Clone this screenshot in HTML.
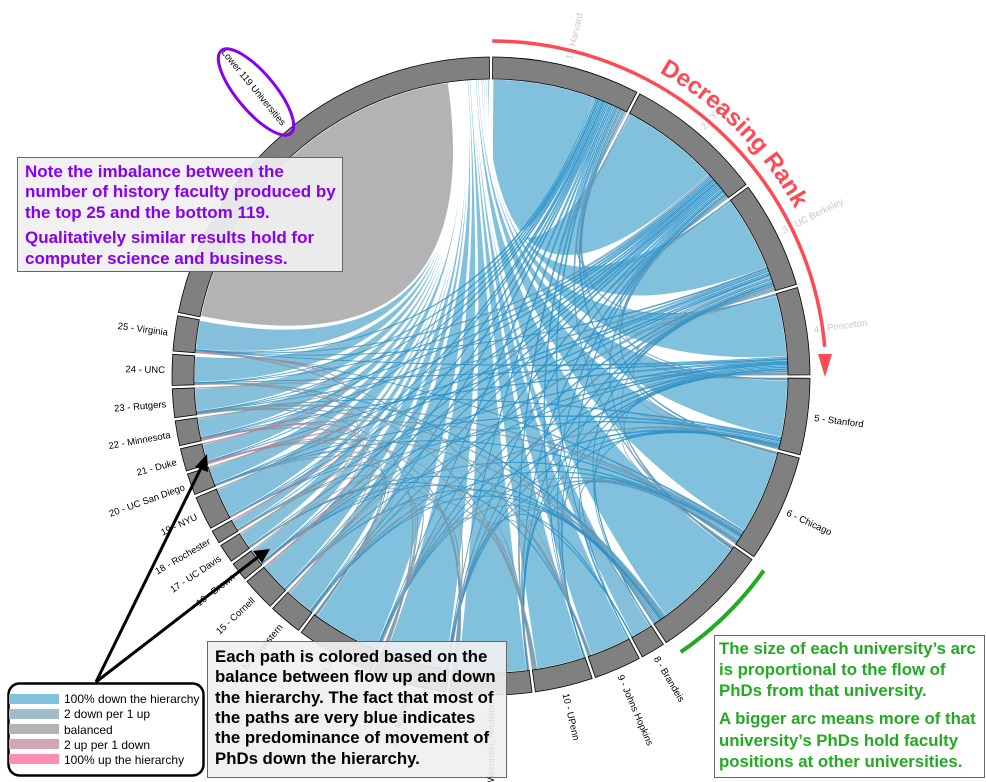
<!DOCTYPE html>
<html><head><meta charset="utf-8">
<style>
html,body{margin:0;padding:0;background:#fff;}
svg{display:block;}
text{font-family:"Liberation Sans",Arial,sans-serif;}
.bx{font-weight:bold;font-size:16.8px;}
.px{font-weight:bold;font-size:17px;}
</style></head>
<body>
<svg id="chart" width="986" height="782" viewBox="0 0 986 782">
<g id="ribbons"></g>
<g id="arcs"></g>
<g id="labels"></g>

<g>
  <path id="rankArc" fill="none" stroke="#ff4a55" stroke-width="3.5"/>
  <polygon id="rankHead" fill="#ff4a55"/>
  <path id="rankTextPath" fill="none" stroke="none"/>
  <text font-size="24" font-weight="bold" fill="#ff4a55"><textPath href="#rankTextPath">Decreasing Rank</textPath></text>
</g>
<path id="greenArc" fill="none" stroke="#22aa22" stroke-width="4"/>

<ellipse cx="256" cy="92" rx="54" ry="19" transform="rotate(50 256 92)" fill="none" stroke="#8800ee" stroke-width="3"/>

<g>
  <rect x="17.5" y="157.5" width="325" height="114" fill="#f0f0f0" fill-opacity="0.92" stroke="#666" stroke-width="1"/>
  <text class="px" fill="#8800ee" x="25" y="177">Note the imbalance between the</text>
  <text class="px" fill="#8800ee" x="25" y="197">number of history faculty produced by</text>
  <text class="px" fill="#8800ee" x="25" y="218">the top 25 and the bottom 119.</text>
  <text class="px" fill="#8800ee" x="25" y="243">Qualitatively similar results hold for</text>
  <text class="px" fill="#8800ee" x="25" y="264">computer science and business.</text>
</g>

<g>
  <rect x="207.5" y="641.5" width="299" height="136" fill="#f0f0f0" fill-opacity="0.9" stroke="#666" stroke-width="1"/>
  <text class="bx" fill="#000" x="215" y="662">Each path is colored based on the</text>
  <text class="bx" fill="#000" x="215" y="682">balance between flow up and down</text>
  <text class="bx" fill="#000" x="215" y="703">the hierarchy. The fact that most of</text>
  <text class="bx" fill="#000" x="215" y="723">the paths are very blue indicates</text>
  <text class="bx" fill="#000" x="215" y="743">the predominance of movement of</text>
  <text class="bx" fill="#000" x="215" y="764">PhDs down the hierarchy.</text>
</g>

<g>
  <rect x="714.5" y="635.5" width="270" height="142" fill="#fff" stroke="#666" stroke-width="1"/>
  <text class="bx" fill="#22aa22" x="719" y="654">The size of each university’s arc</text>
  <text class="bx" fill="#22aa22" x="719" y="675">is proportional to the flow of</text>
  <text class="bx" fill="#22aa22" x="719" y="696">PhDs from that university.</text>
  <text class="bx" fill="#22aa22" x="719" y="724">A bigger arc means more of that</text>
  <text class="bx" fill="#22aa22" x="719" y="746">university’s PhDs hold faculty</text>
  <text class="bx" fill="#22aa22" x="719" y="767">positions at other universities.</text>
</g>

<g stroke="#000" stroke-width="3" fill="#000">
  <line x1="96" y1="682" x2="202" y2="466"/>
  <polygon points="207,454 195,467 208,472" stroke="none"/>
  <line x1="96" y1="682" x2="258" y2="557"/>
  <polygon points="270,549 253,551 262,563" stroke="none"/>
</g>

<g>
  <rect x="8.5" y="683.5" width="195" height="92" rx="11" fill="#fff" stroke="#000" stroke-width="2.5"/>
  <g><rect x="9" y="694" width="50" height="10" fill="#7fc1de"/><text x="64" y="703" font-size="12">100% down the hierarchy</text></g>
  <g><rect x="9" y="709" width="50" height="10" fill="#a2bccb"/><text x="64" y="718" font-size="12">2 down per 1 up</text></g>
  <g><rect x="9" y="724" width="50" height="10" fill="#b3b3b3"/><text x="64" y="734" font-size="12">balanced</text></g>
  <g><rect x="9" y="739" width="50" height="10" fill="#d0a7b5"/><text x="64" y="749" font-size="12">2 up per 1 down</text></g>
  <g><rect x="9" y="754" width="50" height="10" fill="#ff8fb0"/><text x="64" y="764" font-size="12">100% up the hierarchy</text></g>
</g>
</svg>

<script>
// ---- data ----
const universities = ["1 - Harvard","2 - Yale","3 - UC Berkeley","4 - Princeton","5 - Stanford","6 - Chicago","7 - Columbia","8 - Brandeis","9 - Johns Hopkins","10 - UPenn","11 - Wisconsin, Madison","12 - Michigan","13 - UCLA","14 - Northwestern","15 - Cornell","16 - Brown","17 - UC Davis","18 - Rochester","19 - NYU","20 - UC San Diego","21 - Duke","22 - Minnesota","23 - Rutgers","24 - UNC","25 - Virginia","Lower 119 Universities"];
const phdsPlaced = [269,253,196,159,139,196,216,44,86,105,149,135,143,61,61,34,34,24,61,39,41,45,52,56,64,782];
const lowerBack = [5,4,4,4,3,4,4,2,3,3,4,4,3,3,3,2,2,2,3,2,3,3,3,3,3];
const linkSource = [0,0,0,0,0,0,0,0,0,0,0,0,0,0,0,0,0,0,0,0,0, 1,1,1,1,1,1,1,1,1,1,1,1,1,1,1,1,1,1,1,1, 2,2,2,2,2,2,2,2,2,2,2,2,2,2,2,2, 3,3,3,3,3,3,3,3,3,3,3,3,3,3, 4,4,4,4,4,4,4,4,4,4, 5,5,5,5,5,5,5,5,5,5,5,5, 6,6,6,6,6,6,6,6,6,6,6, 7,7, 8,8,8,8, 9,9,9,9,9, 10,10,10,10,10, 11,11,11,11, 12,12,12,12, 13,13, 14,14, 15, 16,17,18,19,20,21,22];
const linkTarget = [1,2,3,4,5,6,8,9,10,11,12,13,14,15,17,18,20,21,22,23,24, 2,3,4,5,6,8,9,10,11,12,13,14,15,16,18,19,21,22,23,24, 3,4,5,6,7,9,10,11,12,13,15,17,19,20,22,24, 4,5,6,7,9,10,11,12,14,15,18,21,23,24, 5,6,7,10,11,12,13,17,19,22, 6,8,9,10,11,12,13,15,19,21,22,24, 7,9,10,11,12,13,14,16,20,22,23, 11,15, 10,11,16,24, 11,12,14,20,23, 12,13,16,19,21, 13,15,17,22, 14,16,18,19, 15,20, 17,21, 23, 18,20,22,21,24,23,24];
const linkDown = [4,3,4,3,4,3,3,4,4,3,4,3,3,3,2,3,3,3,2,3,4, 3,3,2,3,4,2,3,4,3,3,3,3,2,3,3,2,3,3,3,4, 3,3,3,2,3,2,3,4,3,5,2,3,4,3,3,2, 2,2,3,3,2,3,3,3,2,2,2,3,2,3, 2,2,2,2,2,3,3,2,3,2, 3,2,2,3,4,3,2,2,2,2,3,2, 2,3,3,3,3,2,2,2,2,2,3, 1,1, 1,2,1,2, 2,2,2,1,2, 2,2,2,2,2, 2,2,1,2, 1,1,1,2, 1,1, 1,1, 1, 1,1,1,1,1,1,1];
const linkUp = [2,1,1,1,0,1,0,0,0,0,0,0,0,0,0,0,0,0,0,0,0, 1,1,1,0,1,0,0,0,0,0,0,0,0,0,0,0,0,0,0,1, 1,1,2,1,0,0,0,1,0,1,0,0,0,0,1,0, 1,1,1,0,0,0,0,0,0,0,0,0,0,0, 1,1,0,0,0,0,1,0,0,0, 2,0,1,0,1,1,0,0,0,1,1,0, 1,0,1,1,1,0,0,0,1,1,0, 0,0, 1,1,0,1, 1,1,1,1,1, 2,1,1,1,1, 1,1,1,1, 1,1,0,1, 1,1, 1,2, 1, 1,2,1,1,2,1,1];

// ---- layout ----
const CX = 491, CY = 376, R_IN = 297, R_OUT = 319, PAD = 0.6, START = 0.3;
const N = universities.length, LOWER = N - 1;
const NS = "http://www.w3.org/2000/svg";
const rad = a => a * Math.PI / 180;
const pt = (a, r) => [CX + r * Math.sin(rad(a)), CY - r * Math.cos(rad(a))];
const total = phdsPlaced.reduce((s, v) => s + v, 0);
const K = (360 - PAD * N) / total;
const nodeA0 = [], nodeA1 = [];
let acc = START;
for (let i = 0; i < N; i++) { nodeA0.push(acc); acc += phdsPlaced[i] * K; nodeA1.push(acc); acc += PAD; }
const mid = i => (nodeA0[i] + nodeA1[i]) / 2;
const ends = []; for (let i = 0; i < N; i++) ends.push([]);
const ribbons = [];
function addRibbon(s, t, d, u) {
  const rb = { s, t, d, u };
  const es = { val: d, other: t, rb, side: "s" }, et = { val: Math.max(u, 0.3), other: s, rb, side: "t" };
  ends[s].push(es); if (s !== t) ends[t].push(et); else { es.self = true; }
  ribbons.push(rb); return rb;
}
const lowerRibbons = [];
for (let i = 0; i < LOWER; i++) lowerRibbons.push(addRibbon(i, LOWER, 0, lowerBack[i]));
const selfRb = addRibbon(LOWER, LOWER, 0, 0);
const linkRibbons = [];
for (let l = 0; l < linkSource.length; l++) linkRibbons.push(addRibbon(linkSource[l], linkTarget[l], linkDown[l], linkUp[l]));
for (let i = 0; i < LOWER; i++) {
  const used = ends[i].filter(e => e.rb !== lowerRibbons[i]).reduce((s, e) => s + e.val, 0);
  const e = ends[i].find(e => e.rb === lowerRibbons[i]);
  e.val = phdsPlaced[i] - used; lowerRibbons[i].d = e.val;
}
{ const used = ends[LOWER].filter(e => !e.self).reduce((s, e) => s + e.val, 0);
  const e = ends[LOWER].find(e => e.self); e.val = phdsPlaced[LOWER] - used; }
for (let i = 0; i < N; i++) {
  ends[i].forEach(e => { e.rel = e.self ? 360 : ((mid(e.other) - mid(i)) % 360 + 360) % 360; });
  ends[i].sort((a, b) => b.rel - a.rel);
  let a = nodeA0[i];
  ends[i].forEach(e => { e.a0 = a; a += e.val * K; e.a1 = a; e.rb[e.side + "a"] = [e.a0, e.a1]; });
}
selfRb.ta = selfRb.sa;

function ribbonPath(sa, ta, r) {
  const p0 = pt(sa[0], r), p1 = pt(sa[1], r), q0 = pt(ta[0], r), q1 = pt(ta[1], r);
  const lf = (a, b) => (b - a > 180 ? 1 : 0);
  if (ta === sa) return `M${p0}A${r},${r} 0 ${lf(sa[0], sa[1])} 1 ${p1}Q${CX},${CY} ${p0}Z`;
  return `M${p0}A${r},${r} 0 ${lf(sa[0], sa[1])} 1 ${p1}Q${CX},${CY} ${q0}A${r},${r} 0 ${lf(ta[0], ta[1])} 1 ${q1}Q${CX},${CY} ${p0}Z`;
}
const fillStops = [[0,[255,143,176]],[0.333,[208,167,181]],[0.5,[179,179,179]],[0.667,[162,188,203]],[1,[127,193,222]]];
const strokeStops = [[0,[255,70,120]],[0.333,[200,120,150]],[0.5,[150,150,150]],[0.667,[110,150,175]],[1,[35,140,198]]];
function interp(stops, r) {
  for (let i = 1; i < stops.length; i++) if (r <= stops[i][0]) {
    const [a, ca] = stops[i - 1], [b, cb] = stops[i], f = (r - a) / (b - a);
    return "rgb(" + ca.map((c, k) => Math.round(c + (cb[k] - c) * f)).join(",") + ")";
  }
  return "rgb(" + stops[stops.length - 1][1].join(",") + ")";
}
const gR = document.getElementById("ribbons");
{
  const p = document.createElementNS(NS, "path");
  p.setAttribute("d", ribbonPath(selfRb.sa, selfRb.sa, R_IN));
  p.setAttribute("fill", "#b3b3b3"); p.setAttribute("stroke", "#fff"); p.setAttribute("stroke-width", "2");
  
  
  gR.appendChild(p);
}
lowerRibbons.forEach((rb, i) => {
  const p = document.createElementNS(NS, "path");
  p.setAttribute("d", ribbonPath(rb.sa, rb.ta, R_IN));
  const r = rb.d / (rb.d + rb.u);
  p.setAttribute("fill", interp(fillStops, r)); p.setAttribute("stroke", "#fff");
  p.setAttribute("stroke-width", "1.6");
  
  
  gR.appendChild(p);
});
linkRibbons.forEach(rb => {
  const p = document.createElementNS(NS, "path");
  p.setAttribute("d", ribbonPath(rb.sa, rb.ta, R_IN));
  const r = rb.d / (rb.d + rb.u);
  p.setAttribute("fill", interp(fillStops, r)); p.setAttribute("fill-opacity", "0.7");
  p.setAttribute("stroke", interp(strokeStops, r)); p.setAttribute("stroke-width", "0.8"); p.setAttribute("stroke-opacity", "0.75");
  
  
  gR.appendChild(p);
});
const gA = document.getElementById("arcs"), gL = document.getElementById("labels");
for (let i = 0; i < N; i++) {
  const a0 = nodeA0[i], a1 = nodeA1[i], lf = a1 - a0 > 180 ? 1 : 0;
  const o0 = pt(a0, R_OUT), o1 = pt(a1, R_OUT), i0 = pt(a0, R_IN), i1 = pt(a1, R_IN);
  const p = document.createElementNS(NS, "path");
  p.setAttribute("d", `M${o0}A${R_OUT},${R_OUT} 0 ${lf} 1 ${o1}L${i1}A${R_IN},${R_IN} 0 ${lf} 0 ${i0}Z`);
  p.setAttribute("fill", "#808080"); p.setAttribute("stroke", "#000"); p.setAttribute("stroke-width", "0.8");
  
  
  gA.appendChild(p);
  if (i === 6) continue; // label of rank 7 not visible in the reference
  const m = mid(i);
  const t = document.createElementNS(NS, "text");
  t.textContent = universities[i];
  t.setAttribute("font-size", "9.5");
  t.setAttribute("dy", "0.35em");
  t.setAttribute("fill", i < 4 ? "#c8c8c8" : "#000");
  if (m < 180) { t.setAttribute("transform", `translate(${CX},${CY}) rotate(${m - 90}) translate(326,0)`); }
  else { t.setAttribute("transform", `translate(${CX},${CY}) rotate(${m - 90}) translate(326,0) rotate(180)`); t.setAttribute("text-anchor", "end"); }
  
  
  gL.appendChild(t);
}
const arcD = (a0, a1, r) => `M${pt(a0, r)}A${r},${r} 0 0 1 ${pt(a1, r)}`;
document.getElementById("rankArc").setAttribute("d", arcD(0.2, 85, 335));
document.getElementById("rankHead").setAttribute("points", "818,354 832,354 825,377");
document.getElementById("rankTextPath").setAttribute("d", arcD(29, 75, 347));
document.getElementById("greenArc").setAttribute("d", arcD(125.5, 145.5, 335));
</script>
</body></html>
